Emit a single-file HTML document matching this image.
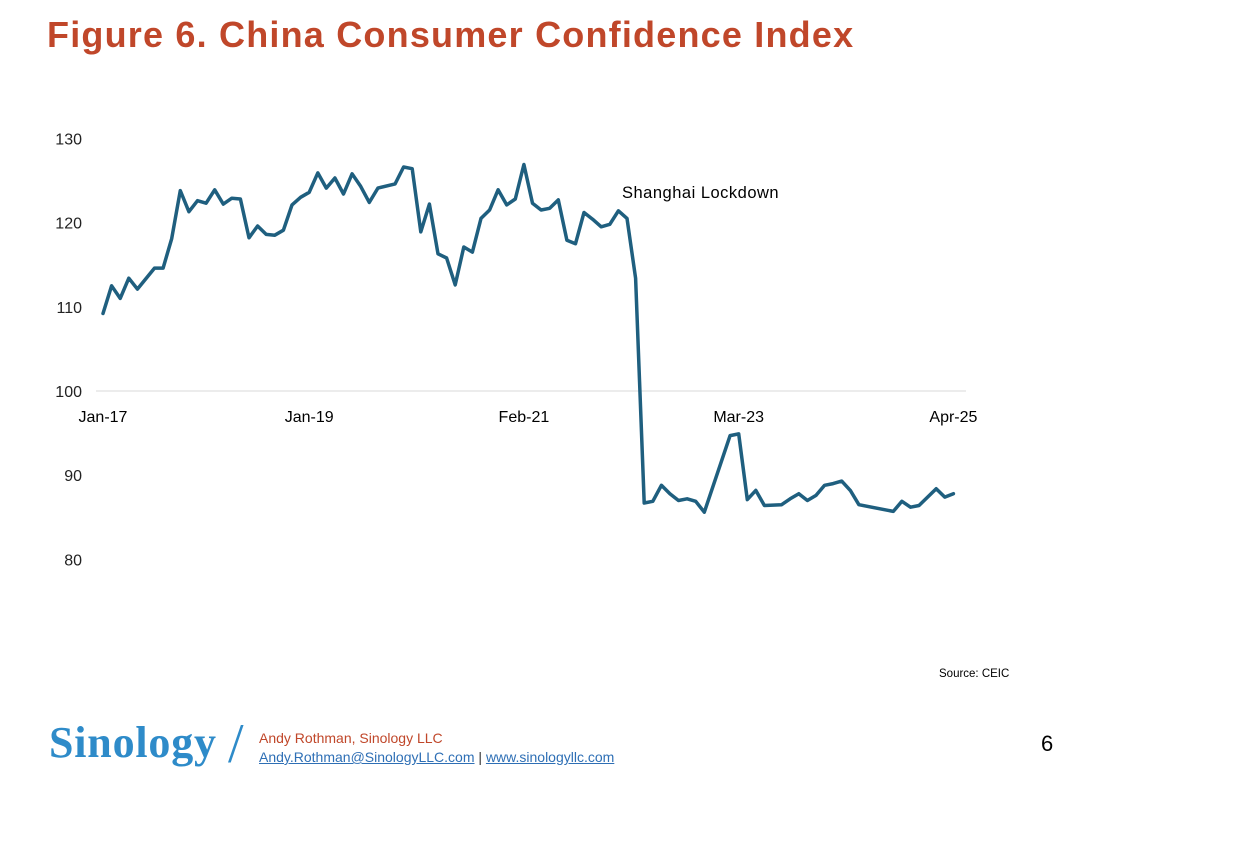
<!DOCTYPE html>
<html><head><meta charset="utf-8"><style>
body{margin:0;width:1260px;height:850px;background:#fff;overflow:hidden;font-family:"Liberation Sans",sans-serif;position:relative}
.t{position:absolute;white-space:nowrap}
</style></head><body>
<div class="t" style="left:47px;top:14px;font-size:36px;font-weight:bold;color:#C0472A;letter-spacing:1.2px;">Figure 6. China Consumer Confidence Index</div>
<svg id="chart" width="1260" height="700" style="position:absolute;left:0;top:0"></svg>
<div class="t" style="left:939px;top:668px;font-size:11.5px;color:#000">Source: CEIC</div>
<div class="t" style="left:49px;top:717px;font-family:'Liberation Serif',serif;font-size:44px;font-weight:bold;color:#2E8BC9;letter-spacing:0.8px">Sinology</div>
<div class="t" style="left:228px;top:712px;font-family:'Liberation Serif',serif;font-size:56px;color:#2E8BC9;">/</div>
<div class="t" style="left:259px;top:730px;font-size:14px;color:#C0472A">Andy Rothman, Sinology LLC</div>
<div class="t" style="left:259px;top:749px;font-size:14px;color:#2E6FB5"><span style="text-decoration:underline">Andy.Rothman@SinologyLLC.com</span> <span style="color:#333">|</span> <span style="text-decoration:underline">www.sinologyllc.com</span></div>
<div class="t" style="left:1041px;top:731px;font-size:22px;color:#000">6</div>
<script>
const monthIdx=[0,1,2,3,4,6,7,8,9,10,11,12,13,14,15,16,17,18,19,20,21,22,23,24,25,26,27,28,29,30,31,32,34,35,36,37,38,39,40,41,42,43,44,45,46,47,48,49,50,51,52,53,54,55,56,57,58,59,60,61,62,63,64,65,66,67,68,69,70,73,74,75,76,77,79,80,81,82,83,84,85,86,87,88,92,93,94,95,96,97,98,99];
const values=[109.2,112.5,111.0,113.4,112.1,114.6,114.6,118.1,123.8,121.3,122.6,122.3,123.9,122.2,122.9,122.8,118.2,119.6,118.6,118.5,119.1,122.1,123.0,123.6,125.9,124.1,125.3,123.4,125.8,124.3,122.4,124.1,124.6,126.6,126.4,118.9,122.2,116.3,115.8,112.6,117.1,116.5,120.5,121.5,123.9,122.1,122.8,126.9,122.3,121.5,121.7,122.7,117.9,117.5,121.2,120.4,119.5,119.8,121.4,120.5,113.4,86.7,86.9,88.8,87.8,87.0,87.2,86.9,85.6,94.7,94.9,87.1,88.2,86.4,86.5,87.2,87.8,87.0,87.6,88.8,89.0,89.3,88.2,86.5,85.7,86.9,86.2,86.4,87.4,88.4,87.4,87.8];
const yTicks=[80,90,100,110,120,130];
const xTickLabels=["Jan-17","Jan-19","Feb-21","Mar-23","Apr-25"];
const xTickMonths=[0,24,49,74,99];
const NS="http://www.w3.org/2000/svg";
const svg=document.getElementById('chart');
const X=m=>103+m*8.59;
const Y=v=>391-(v-100)*8.42;
function mk(t,a){const e=document.createElementNS(NS,t);for(const k in a)e.setAttribute(k,a[k]);svg.appendChild(e);return e;}
const ax=mk('line',{x1:96,x2:966,y1:Y(100),y2:Y(100),stroke:'#d9d9d9','stroke-width':1});


yTicks.forEach(v=>{const t=mk('text',{x:82,y:Y(v)+6,'text-anchor':'end','font-size':16,fill:'#222','font-family':'Liberation Sans, sans-serif'});t.textContent=v;

});
xTickLabels.forEach((l,i)=>{const t=mk('text',{x:X(xTickMonths[i]),y:Y(100)+31,'text-anchor':'middle','font-size':16,fill:'#000','font-family':'Liberation Sans, sans-serif'});t.textContent=l;

});
const pts=monthIdx.map((m,i)=>X(m).toFixed(1)+','+Y(values[i]).toFixed(1)).join(' ');
const line=mk('polyline',{points:pts,fill:'none',stroke:'#1F5F7F','stroke-width':3.5,'stroke-linejoin':'round','stroke-linecap':'round'});


const an=mk('text',{x:622,y:198,'font-size':16.5,fill:'#000','font-family':'Liberation Sans, sans-serif','letter-spacing':0.5});an.textContent='Shanghai Lockdown';


</script>
</body></html>
